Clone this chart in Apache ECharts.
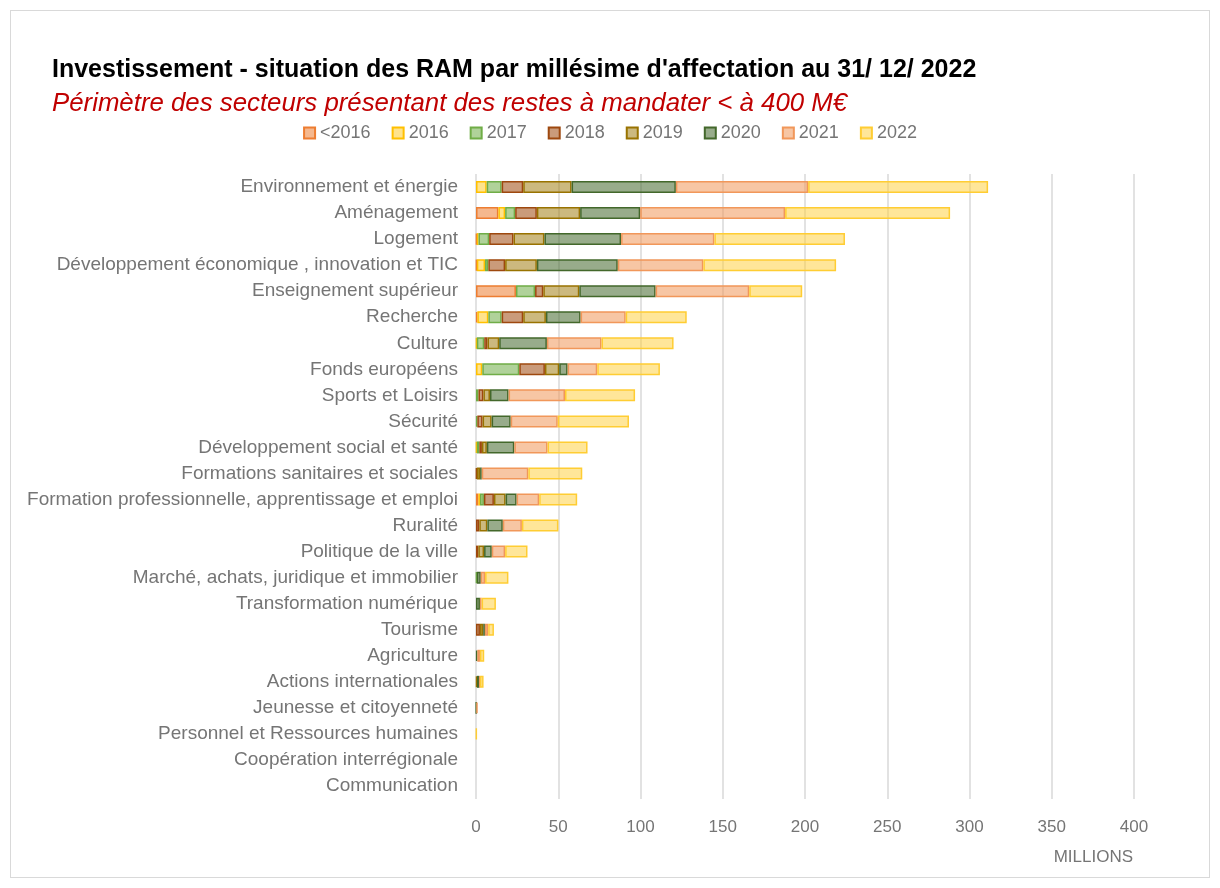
<!DOCTYPE html>
<html>
<head>
<meta charset="utf-8">
<script src="https://cdn.jsdelivr.net/npm/echarts@6/dist/echarts.min.js"></script>
<style>
  html, body { margin: 0; padding: 0; background: #fff; }
  #frame { position: absolute; left: 10px; top: 10px; width: 1198px; height: 866px; border: 1px solid #D9D9D9; }
  #myCanvas { position: absolute; left: 0; top: 0; width: 1220px; height: 888px; }
</style>
</head>
<body>
<div id="frame"></div>
<div id="myCanvas"></div>
<script>
var categories = ['Environnement et énergie', 'Aménagement', 'Logement',
    'Développement économique , innovation et TIC', 'Enseignement supérieur', 'Recherche',
    'Culture', 'Fonds européens', 'Sports et Loisirs', 'Sécurité',
    'Développement social et santé', 'Formations sanitaires et sociales',
    'Formation professionnelle, apprentissage et emploi', 'Ruralité', 'Politique de la ville',
    'Marché, achats, juridique et immobilier', 'Transformation numérique', 'Tourisme',
    'Agriculture', 'Actions internationales', 'Jeunesse et citoyenneté',
    'Personnel et Ressources humaines', 'Coopération interrégionale', 'Communication'];

var years = ['<2016', '2016', '2017', '2018', '2019', '2020', '2021', '2022'];

var vBefore2016 = [0, 13.6, 0.5, 0.5, 24.3, 0.8, 0, 0, 0, 0, 0, 0, 1.4, 0, 0, 0, 0, 0, 0, 0, 0, 0, 0, 0];
var v2016 = [6.5, 4.1, 1.0, 5.0, 0, 6.7, 0.5, 3.8, 0, 0, 0.5, 0, 1.0, 0, 0, 0, 0, 0, 0, 0, 0, 0, 0, 0];
var v2017 = [9.1, 6.1, 6.5, 2.0, 11.6, 8.1, 4.5, 22.5, 1.5, 0.8, 1.5, 0, 2.4, 0, 0, 0.5, 0, 0, 0, 0, 0, 0, 0, 0];
var v2018 = [13.1, 13.2, 14.8, 10.2, 5.0, 13.1, 2.0, 15.6, 3.0, 3.2, 1.6, 0.5, 6.1, 2.0, 1.4, 0, 0, 2.4, 0, 0, 0, 0, 0, 0];
var v2019 = [29.4, 26.3, 18.8, 19.3, 21.9, 13.8, 7.1, 8.7, 4.0, 5.5, 3.0, 2.0, 7.1, 4.9, 3.5, 0, 0, 2.0, 0, 0.6, 0, 0, 0, 0];
var v2020 = [63.4, 36.5, 46.6, 49.2, 46.4, 21.1, 29.0, 5.1, 11.3, 11.6, 16.7, 1.0, 6.7, 9.4, 4.7, 2.4, 2.4, 1.0, 0.8, 1.5, 0.2, 0, 0, 0];
var v2021 = [80.4, 88.1, 56.7, 52.0, 56.9, 27.4, 33.2, 18.0, 34.3, 28.6, 20.2, 28.3, 13.7, 11.6, 8.1, 2.6, 1.0, 2.0, 1.6, 0.3, 0.8, 0, 0, 0];
var v2022 = [109.4, 100.3, 79.4, 80.7, 32.2, 37.1, 43.8, 38.1, 42.6, 43.3, 24.3, 32.8, 23.1, 22.2, 13.6, 14.2, 8.7, 3.5, 2.6, 2.2, 0, 0.4, 0, 0];

var xTicks = [0, 50, 100, 150, 200, 250, 300, 350, 400];

var values = [vBefore2016, v2016, v2017, v2018, v2019, v2020, v2021, v2022];
// fill (semi transparent) and border, excel-like
var fills = ['rgba(237,125,49,0.55)', 'rgba(255,192,0,0.45)', 'rgba(112,173,71,0.55)', 'rgba(158,72,14,0.55)',
    'rgba(153,115,0,0.5)', 'rgba(67,104,43,0.55)', 'rgba(241,151,90,0.55)', 'rgba(255,205,51,0.5)'];
var borders = ['#ED7D31', '#FFC000', '#70AD47', '#9E480E', '#997300', '#43682B', '#F1975A', '#FFCD33'];

var font = '"Liberation Sans", Arial, sans-serif';
var grey = '#757575';

var series = years.map(function (y, i) {
    return {
        name: y,
        type: 'bar',
        stack: 'total',
        barWidth: 12,
        itemStyle: { color: fills[i], borderColor: borders[i], borderWidth: 1.5 },
        data: values[i].map(function (v) { return v === 0 ? '-' : v; })
    };
});

var myChart = echarts.init(document.getElementById('myCanvas'));
var option = {
    animation: false,
    textStyle: { fontFamily: font },
    title: [{
        text: "Investissement - situation des RAM par millésime d'affectation au 31/ 12/ 2022",
        left: 47, top: 53,
        textStyle: { fontSize: 25, fontWeight: 'bold', color: '#000', fontFamily: font }
    }, {
        text: 'Périmètre des secteurs présentant des restes à mandater < à 400 M€',
        left: 47, top: 86,
        textStyle: { fontSize: 25.8, fontStyle: 'italic', fontWeight: 'normal', color: '#C00000', fontFamily: font }
    }],
    legend: {
        data: years,
        left: 'center',
        top: 119,
        icon: 'rect',
        itemWidth: 11,
        itemHeight: 11,
        itemGap: 21,
        textStyle: { fontSize: 18, color: grey, fontFamily: font }
    },
    grid: { left: 476, right: 86, top: 174, bottom: 89 },
    xAxis: {
        type: 'value',
        min: xTicks[0],
        max: xTicks[xTicks.length - 1],
        interval: 50,
        axisLine: { show: false },
        axisTick: { show: false },
        splitLine: { lineStyle: { color: '#D9D9D9', width: 1.5 } },
        axisLabel: { fontSize: 17, color: grey, margin: 20, fontFamily: font }
    },
    yAxis: {
        type: 'category',
        inverse: true,
        data: categories,
        axisLine: { show: false },
        axisTick: { show: false },
        axisLabel: { fontSize: 19, color: grey, margin: 18, fontFamily: font }
    },
    graphic: [{
        type: 'text',
        right: 87,
        top: 849,
        style: { text: 'MILLIONS', fontSize: 17, fill: grey, fontFamily: font }
    }],
    series: series
};
myChart.setOption(option);
</script>
</body>
</html>
